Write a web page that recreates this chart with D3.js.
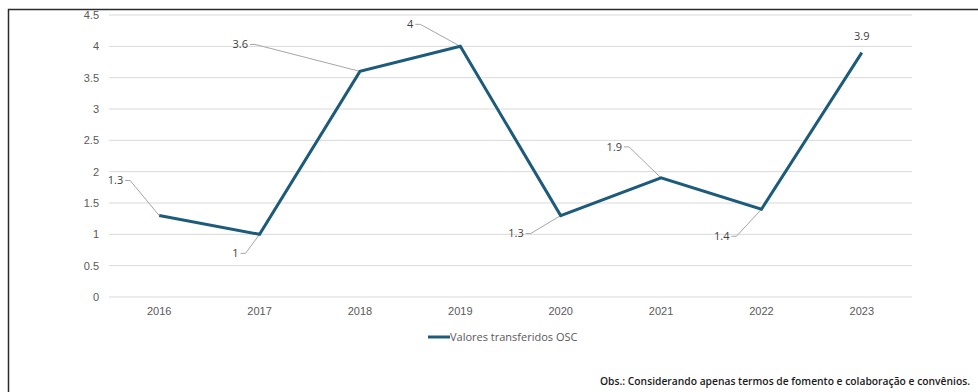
<!DOCTYPE html>
<html>
<head>
<meta charset="utf-8">
<script src="https://cdn.jsdelivr.net/npm/d3@7"></script>
<style>
  html, body { margin: 0; padding: 0; background: #fff; }
  svg { display: block; font-family: "Open Sans", "Liberation Sans", sans-serif; }
</style>
</head>
<body>
<svg id="chart" width="978" height="392"></svg>
<script>
// Values transferred to civil society organisations (OSC), by year
const years = ["2016", "2017", "2018", "2019", "2020", "2021", "2022", "2023"];
const values = [1.3, 1, 3.6, 4, 1.3, 1.9, 1.4, 3.9];
const yTicks = [0, 0.5, 1, 1.5, 2, 2.5, 3, 3.5, 4, 4.5];
// label end offsets (dx, dy) from each point; null = label directly above, no leader
const labelOffsets = [[-36, -35], [-21, 19], [-112, -27], [-47, -22], [-37, 18], [-39, -31], [-32, 27], null];
const seriesName = "Valores transferidos OSC";
const footnote = "Obs.: Considerando apenas termos de fomento e colaboração e convênios.";

const svg = d3.select("#chart");
const W = 978, H = 392;
const m = { left: 109, right: 66, top: 15, bottom: 95 };

const x = d3.scaleBand().domain(years).range([m.left, W - m.right]);
const y = d3.scaleLinear().domain([0, 4.5]).range([H - m.bottom, m.top]);

// outer frame (left and top edges)
svg.append("path")
  .attr("d", `M8.5,${H} L8.5,9.5 L${W},9.5`)
  .attr("fill", "none").attr("stroke", "#2b2b2b").attr("stroke-width", 1.5);

// horizontal gridlines
svg.append("g").selectAll("line").data(yTicks).join("line")
  .attr("x1", m.left).attr("x2", W - m.right)
  .attr("y1", d => y(d)).attr("y2", d => y(d))
  .attr("stroke", "#d9d9d9").attr("stroke-width", 1);

// y axis labels
const yAxis = svg.append("g").attr("transform", `translate(${m.left - 10},0)`)
  .call(d3.axisLeft(y).tickValues(yTicks).tickSize(0).tickPadding(0).tickFormat(d3.format("")));
yAxis.select(".domain").remove();
yAxis.selectAll("text").attr("fill", "#595959").attr("font-size", 11);

// x axis labels
const xAxis = svg.append("g").attr("transform", `translate(0,${H - m.bottom + 10})`)
  .call(d3.axisBottom(x).tickSize(0).tickPadding(0));
xAxis.select(".domain").remove();
xAxis.selectAll("text").attr("fill", "#595959").attr("font-size", 11).attr("dy", "0.75em");

const pts = values.map((v, i) => ({ v, i, px: x(years[i]) + x.bandwidth() / 2, py: y(v) }));

// leader lines: short horizontal stub after the label, then to the point
const leaders = svg.append("g");
pts.forEach(p => {
  const off = labelOffsets[p.i];
  if (!off) return;
  const ex = p.px + off[0], ey = p.py + off[1];
  leaders.append("polyline")
    .attr("points", `${ex + 2},${ey} ${ex + 7},${ey} ${p.px},${p.py}`)
    .attr("fill", "none").attr("stroke", "#a6a6a6").attr("stroke-width", 1);
});

// series line
svg.append("path").datum(pts)
  .attr("d", d3.line().x(p => p.px).y(p => p.py))
  .attr("fill", "none").attr("stroke", "#1d5b7b").attr("stroke-width", 3)
  .attr("stroke-linejoin", "miter");

// data labels
svg.append("g").selectAll("text").data(pts).join("text")
  .attr("x", p => labelOffsets[p.i] ? p.px + labelOffsets[p.i][0] : p.px)
  .attr("y", p => labelOffsets[p.i] ? p.py + labelOffsets[p.i][1] : p.py - 16)
  .attr("dy", "0.35em")
  .attr("text-anchor", p => labelOffsets[p.i] ? "end" : "middle")
  .attr("font-size", 11).attr("fill", "#404040")
  .text(p => d3.format("")(p.v));

// legend
const lg = svg.append("g").attr("transform", "translate(428,337)");
lg.append("line").attr("x1", 0).attr("x2", 22).attr("y1", 0).attr("y2", 0)
  .attr("stroke", "#1d5b7b").attr("stroke-width", 3);
lg.append("text").attr("x", 22).attr("dy", "0.35em")
  .attr("font-size", 11).attr("fill", "#595959").text(seriesName);

// footnote
svg.append("text").attr("x", 970).attr("y", 381).attr("dy", "0.35em")
  .attr("text-anchor", "end").attr("font-size", 10).attr("font-weight", 600)
  .attr("fill", "#1a1a1a").attr("textLength", 370).attr("lengthAdjust", "spacingAndGlyphs")
  .text(footnote);
</script>
</body>
</html>
